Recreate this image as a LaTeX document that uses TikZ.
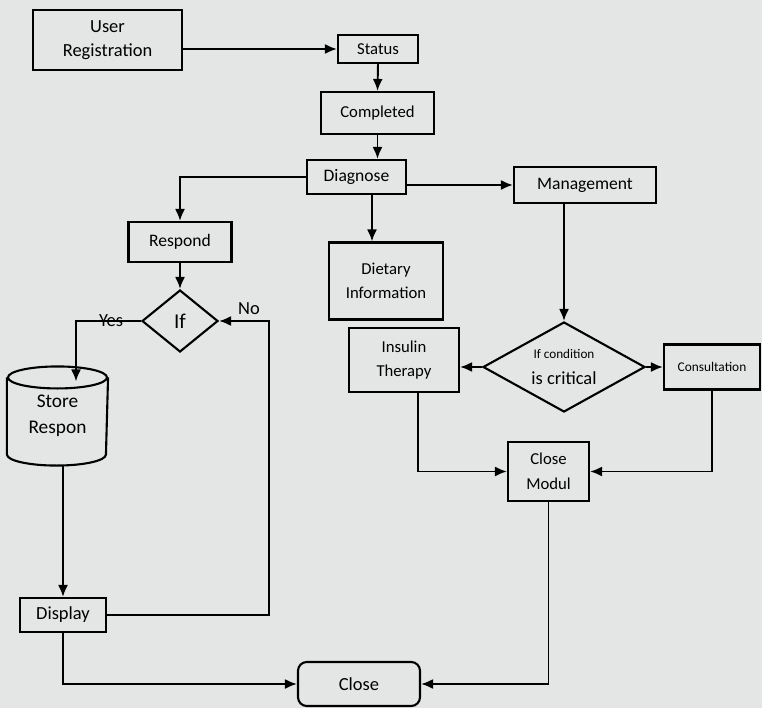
\documentclass[tikz,border=0pt]{standalone}
\usepackage{fontspec}
\setmainfont{Carlito}
\usetikzlibrary{positioning}
\usetikzlibrary{shapes,arrows.meta,calc}
\definecolor{paper}{RGB}{228,230,230}

\begin{document}
\begin{tikzpicture}[every node/.style={draw,rectangle,line width=1.2pt,align=center,inner sep=0pt,font=\fontsize{9.5}{14}\selectfont},
  lbl/.style={draw=none,font=\fontsize{10.5}{12}\selectfont},
  ask/.style={diamond},
  conn/.style={-{Latex[length=2.4mm,width=2mm]},line width=1.1pt}]
\fill[paper] (0,0) rectangle (15.24,14.16);
\node[minimum width=2.98cm,minimum height=1.2cm,font=\fontsize{10.5}{14}\selectfont] (userreg) at (2.15,13.36) {User\\Registration};
\node[minimum width=1.6cm,minimum height=0.56cm] (status) at (7.56,13.18) {Status};
\node[minimum width=2.26cm,minimum height=0.84cm] (completed) at (7.55,11.9) {Completed};
\node[minimum width=1.98cm,minimum height=0.68cm,font=\fontsize{10}{12}\selectfont] (diagnose) at (7.13,10.62) {Diagnose};
\node[minimum width=2.84cm,minimum height=0.72cm,font=\fontsize{10}{12}\selectfont] (mgmt) at (11.7,10.46) {Management};
\node[minimum width=2.06cm,minimum height=0.8cm,font=\fontsize{10}{12}\selectfont] (respond) at (3.6,9.32) {Respond};
\node[minimum width=2.28cm,minimum height=1.54cm] (dietary) at (7.72,8.54) {Dietary\\Information};
\node[ask,aspect=1.23,minimum width=1.52cm,minimum height=1.24cm,font=\fontsize{12}{14}\selectfont] (ifq) at (3.6,7.74) {If};
\node[minimum width=2.2cm,minimum height=1.28cm] (insulin) at (8.08,6.96) {Insulin\\Therapy};
\node[ask,aspect=1.8,minimum width=3.24cm,minimum height=1.8cm] (crit) at (11.28,6.82) {{\fontsize{7.5}{9}\selectfont If condition}\\[1pt]{\fontsize{10.5}{12}\selectfont is critical}};
\node[minimum width=1.92cm,minimum height=0.9cm,font=\fontsize{7.6}{9}\selectfont] (consult) at (14.24,6.82) {Consultation};
\node[minimum width=1.62cm,minimum height=1.18cm] (closemod) at (10.97,4.73) {Close\\Modul};
\node[draw=none,minimum width=1.98cm,minimum height=1.94cm,font=\fontsize{11}{15}\selectfont] (store) at (1.15,5.84) {Store\\Respon};
\node[minimum width=1.72cm,minimum height=0.68cm,font=\fontsize{10.5}{12}\selectfont] (display) at (1.26,1.86) {Display};
\node[rounded corners=5pt,minimum width=2.44cm,minimum height=0.88cm,font=\fontsize{10.5}{12}\selectfont] (close) at (7.18,0.48) {Close};

\draw[line width=1.2pt] ($(store.north)+(0,-0.22)$) ellipse [x radius=0.99cm,y radius=0.22cm];
\draw[line width=1.2pt] ($(store.north west)+(0,-0.22)$) -- ($(store.south west)+(0,0.22)$)
  arc[start angle=180,end angle=360,x radius=0.99cm,y radius=0.22cm] -- ($(store.north east)+(0,-0.22)$);
\coordinate (yesend) at ($(store.north)+(0.37,-0.3)$);

\draw[conn] (userreg.east |- status.west) -- (status.west);
\draw[conn] (status.south) -- (completed.north);
\draw[conn] (completed.south) -- (completed.south |- diagnose.north);
\draw[conn] (diagnose.west) -| (respond.north);
\draw[conn] (diagnose.east |- mgmt.west) -- (mgmt.west);
\draw[conn] ([xshift=0.31cm]diagnose.south) -- ([xshift=0.31cm]diagnose.south |- dietary.north);
\draw[conn] (respond.south) -- (ifq.north);
\draw[conn] (ifq.west) -| node[lbl,pos=0.23,above,yshift=-4pt] {Yes} (yesend);
\draw[conn] (display.north |- store.south) -- (display.north);
\draw[conn] (display.east) -| ([xshift=1cm]ifq.east) -- node[lbl,pos=0.4,above,yshift=3pt] {No} (ifq.east);
\draw[conn] (mgmt.south -| crit.north) -- (crit.north);
\draw[conn] (crit.west) -- (crit.west -| insulin.east);
\draw[conn] (crit.east) -- (consult.west);
\draw[conn] ([xshift=0.28cm]insulin.south) |- (closemod.west);
\draw[conn] (consult.south) |- (closemod.east);
\draw[conn] (closemod.south) |- (close.east);
\draw[conn] (display.south) |- (close.west);
\end{tikzpicture}
\end{document}
